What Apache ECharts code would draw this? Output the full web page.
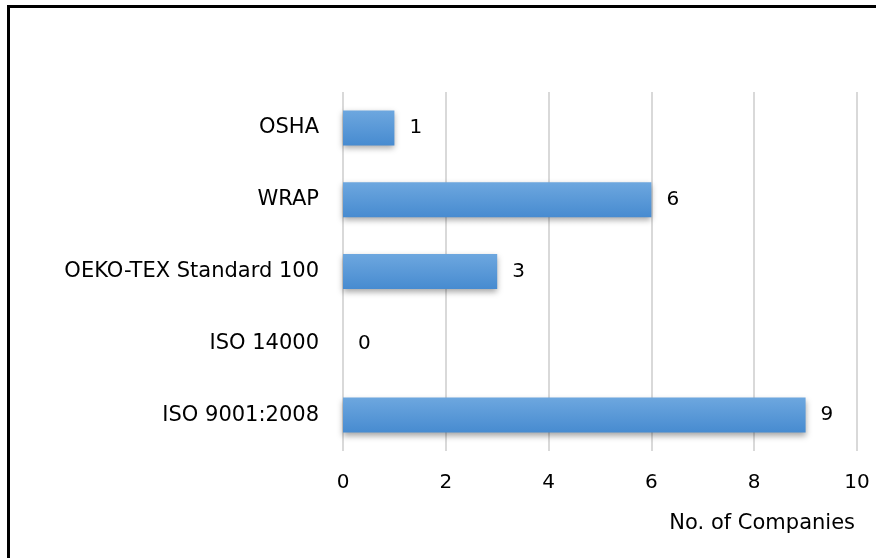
<!DOCTYPE html>
<html>
<head>
<meta charset="utf-8">
<script src="https://cdn.jsdelivr.net/npm/echarts@6/dist/echarts.min.js"></script>
<style>
  html, body { margin: 0; padding: 0; background: #fff; }
  #chart { width: 876px; height: 558px; }
</style>
</head>
<body>
<div id="chart"></div>
<script>
const categories = ['ISO 9001:2008', 'ISO 14000', 'OEKO-TEX Standard 100', 'WRAP', 'OSHA']
const companies = [9, 0, 3, 6, 1]
const xTicks = [0, 2, 4, 6, 8, 10]

const chart = echarts.init(document.getElementById('chart'))
const font = 'DejaVu Sans'

const option = {
  backgroundColor: '#fff',
  animation: false,
  graphic: [
    {
      type: 'rect',
      shape: { x: 8.5, y: 6.5, width: 1000, height: 1000 },
      style: { fill: 'none', stroke: '#000', lineWidth: 3 },
      z: 10
    }
  ],
  grid: {
    left: 343,
    right: 19,
    top: 92,
    bottom: 107
  },
  xAxis: {
    type: 'value',
    min: xTicks[0],
    max: xTicks[xTicks.length - 1],
    interval: 2,
    name: 'No. of Companies',
    nameLocation: 'end',
    nameGap: 0,
    nameTextStyle: {
      color: '#000',
      fontFamily: font,
      fontSize: 21,
      align: 'right',
      verticalAlign: 'top',
      padding: [62, 2, 0, 0]
    },
    axisLine: { show: false },
    axisTick: { show: false },
    axisLabel: { color: '#000', fontFamily: font, fontSize: 20, margin: 22 },
    splitLine: { lineStyle: { color: '#d9d9d9', width: 2 } }
  },
  yAxis: {
    type: 'category',
    data: categories,
    axisLine: { show: false },
    axisTick: { show: false },
    axisLabel: { color: '#000', fontFamily: font, fontSize: 21, margin: 24 }
  },
  series: [
    {
      type: 'bar',
      data: companies,
      barWidth: 35,
      itemStyle: {
        color: new echarts.graphic.LinearGradient(0, 0, 0, 1, [
          { offset: 0, color: '#6da7df' },
          { offset: 1, color: '#478bd0' }
        ]),
        shadowColor: 'rgba(0, 0, 0, 0.35)',
        shadowBlur: 6,
        shadowOffsetY: 3
      },
      label: {
        show: true,
        position: 'right',
        distance: 15,
        color: '#000',
        fontFamily: font,
        fontSize: 20
      }
    }
  ]
}

chart.setOption(option)
</script>
</body>
</html>
